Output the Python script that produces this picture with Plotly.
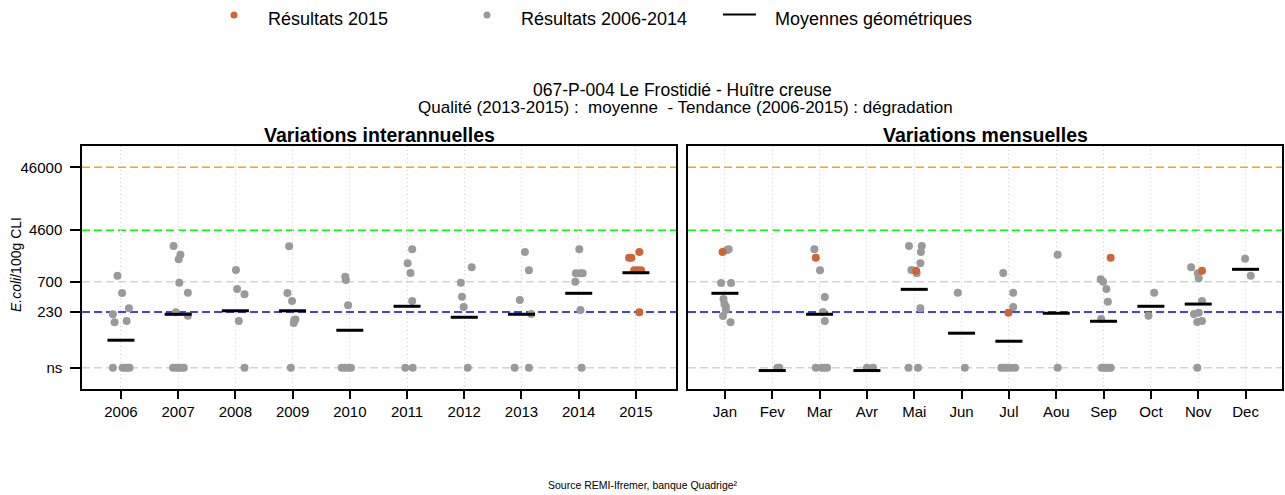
import plotly.graph_objects as go

# ---------------------------------------------------------------- data
YEARS = ["2006", "2007", "2008", "2009", "2010", "2011", "2012", "2013", "2014", "2015"]
MONTHS = ["Jan", "Fev", "Mar", "Avr", "Mai", "Jun", "Jul", "Aou", "Sep", "Oct", "Nov", "Dec"]

NS_LEVEL = 30  # plotting level used for "ns" results
Y_TICK_VALUES = [NS_LEVEL, 230, 700, 4600, 46000]
Y_TICK_LABELS = ["ns", "230", "700", "4600", "46000"]

# Results 2006-2014 by year (value "ns" = non significatif)
hist_year = (["2006"] * 11 + ["2007"] * 12 + ["2008"] * 5 + ["2009"] * 7 + ["2010"] * 7
             + ["2011"] * 6 + ["2012"] * 5 + ["2013"] * 6 + ["2014"] * 7)
hist_value = [870, 462, 264, 212, 158, 166, "ns", "ns", "ns", "ns", "ns",
              2580, 1877, 1585, 673, 467, 228, 201, "ns", "ns", "ns", "ns", "ns",
              1071, 535, 441, 166, "ns",
              2550, 462, 344, 172, 154, 175, "ns",
              838, 743, 294, "ns", "ns", "ns", "ns",
              2285, 1370, 960, 344, "ns", "ns",
              1183, 673, 403, 277, "ns",
              2070, 1059, 357, 214, "ns", "ns",
              2285, 950, 950, 950, 698, 248, "ns"]
hist_jitter = [-0.06, 0.02, 0.14, -0.14, -0.11, 0.10, -0.14, 0.03, 0.07, 0.11, 0.15,
               -0.08, 0.04, 0.01, 0.02, 0.17, -0.04, 0.17, -0.09, -0.03, 0.01, 0.05, 0.10,
               0.01, 0.03, 0.16, 0.06, 0.16,
               -0.06, -0.09, -0.01, 0.03, 0.02, 0.05, -0.03,
               -0.08, -0.07, -0.03, -0.14, -0.08, -0.03, 0.02,
               0.09, 0.01, 0.06, 0.09, -0.03, 0.10,
               0.13, -0.06, -0.04, -0.01, 0.06,
               0.06, 0.13, -0.03, 0.17, -0.12, 0.13,
               0.01, -0.05, 0.02, 0.07, -0.06, 0.03, 0.05]

# Results 2015
cur_year = ["2015"] * 7
cur_value = [2070, 1682, 1682, 1059, 1059, 1059, 228]
cur_jitter = [0.06, -0.12, -0.08, -0.03, 0.03, 0.09, 0.06]

annual_geomean = [82, 212, 241, 241, 118, 284, 190, 212, 457, 970]

# Same results grouped by month
mon_hist_month = (["Jan"] * 10 + ["Fev"] * 2 + ["Mar"] * 9 + ["Avr"] * 2 + ["Mai"] * 9
                  + ["Jun"] * 2 + ["Jul"] * 8 + ["Aou"] * 2 + ["Sep"] * 10 + ["Oct"] * 2
                  + ["Nov"] * 9 + ["Dec"] * 2)
mon_hist_value = [2285, 2200, 664, 664, 371, 308, 280, 248, 199, 158,
                  "ns", "ns",
                  2285, 1059, 399, 230, 166, "ns", "ns", "ns", "ns",
                  "ns", "ns",
                  2580, 2580, 2070, 1370, 1071, 950, 264, "ns", "ns",
                  467, "ns",
                  960, 467, 277, "ns", "ns", "ns", "ns", "ns",
                  1877, "ns",
                  762, 698, 535, 336, 178, "ns", "ns", "ns", "ns", "ns",
                  467, 201,
                  1183, 950, 791, 344, 225, 214, 160, 166, "ns",
                  1621, 870]
mon_hist_jitter = [0.08, 0.04, -0.08, 0.13, -0.03, -0.01, 0.02, 0.02, -0.04, 0.12,
                   0.11, 0.15,
                   -0.11, 0.01, 0.11, 0.07, 0.11, -0.08, 0.04, 0.10, 0.16,
                   0.00, 0.13,
                   -0.11, 0.16, 0.14, 0.13, -0.06, 0.05, 0.13, -0.12, 0.08,
                   -0.08, 0.07,
                   -0.12, 0.09, 0.09, -0.16, -0.09, -0.03, 0.04, 0.13,
                   0.03, 0.03,
                   -0.06, -0.01, 0.06, 0.09, -0.05, -0.04, 0.01, 0.05, 0.10, 0.15,
                   0.07, -0.05,
                   -0.15, -0.01, 0.01, 0.08, 0.01, -0.09, -0.02, 0.08, -0.02,
                   -0.01, 0.11]

mon_cur_month = ["Jan", "Mar", "Mai", "Jul", "Sep", "Nov"]
mon_cur_value = [2070, 1682, 1045, 225, 1682, 1045]
mon_cur_jitter = [-0.05, -0.08, 0.04, -0.01, 0.15, 0.08]

monthly_geomean = [457, 27, 212, 27, 528, 106, 79, 220, 164, 284, 308, 1099]

THRESHOLDS = [46000, 4600, 700, 230, NS_LEVEL]
THRESHOLD_COLORS = ["#FFA500", "#00FF00", "#D3D3D3", "#0000FF", "#D3D3D3"]

# ---------------------------------------------------------------- styling
W, H = 1285, 495
GRAY = "#9A9A9A"
ORANGE = "#CD6535"
FONT = "Liberation Sans, Arial, sans-serif"

LEFT_DOM = [82 / W, 676 / W]
RIGHT_DOM = [688 / W, 1282 / W]
Y_DOM = [1 - 389 / H, 1 - 146 / H]
X1_RANGE = [0.32, 10.7]
X2_RANGE = [0.22, 12.77]
Y_RANGE = [1.138, 5.002]
MEAN_PX = 27  # on-screen length of geometric-mean bars


def px_x(px):
    return px / W


def px_y(px):
    return 1 - px / H


def to_y(v):
    return NS_LEVEL if v == "ns" else v


def positions(groups, jitter, cats):
    return [cats.index(g) + 1 + j for g, j in zip(groups, jitter)]


def mean_segments(means, half):
    xs, ys = [], []
    for i, m in enumerate(means):
        xs += [i + 1 - half, i + 1 + half, None]
        ys += [m, m, None]
    return xs, ys


fig = go.Figure()

marker_gray = dict(color=GRAY, size=8)
marker_orange = dict(color=ORANGE, size=8)

# interannual panel
fig.add_trace(go.Scatter(x=positions(hist_year, hist_jitter, YEARS),
                         y=[to_y(v) for v in hist_value], mode="markers",
                         marker=marker_gray, xaxis="x", yaxis="y"))
fig.add_trace(go.Scatter(x=positions(cur_year, cur_jitter, YEARS),
                         y=[to_y(v) for v in cur_value], mode="markers",
                         marker=marker_orange, xaxis="x", yaxis="y"))
half1 = MEAN_PX / 2 * (X1_RANGE[1] - X1_RANGE[0]) / (LEFT_DOM[1] - LEFT_DOM[0]) / W
mx, my = mean_segments(annual_geomean, half1)
fig.add_trace(go.Scatter(x=mx, y=my, mode="lines", line=dict(color="black", width=3),
                         xaxis="x", yaxis="y"))

# monthly panel
fig.add_trace(go.Scatter(x=positions(mon_hist_month, mon_hist_jitter, MONTHS),
                         y=[to_y(v) for v in mon_hist_value], mode="markers",
                         marker=marker_gray, xaxis="x2", yaxis="y2"))
fig.add_trace(go.Scatter(x=positions(mon_cur_month, mon_cur_jitter, MONTHS),
                         y=[to_y(v) for v in mon_cur_value], mode="markers",
                         marker=marker_orange, xaxis="x2", yaxis="y2"))
half2 = MEAN_PX / 2 * (X2_RANGE[1] - X2_RANGE[0]) / (RIGHT_DOM[1] - RIGHT_DOM[0]) / W
mx2, my2 = mean_segments(monthly_geomean, half2)
fig.add_trace(go.Scatter(x=mx2, y=my2, mode="lines", line=dict(color="black", width=3),
                         xaxis="x2", yaxis="y2"))

# threshold lines in both panels
shapes = []
for xref, yref in (("x domain", "y"), ("x2 domain", "y2")):
    for val, col in zip(THRESHOLDS, THRESHOLD_COLORS):
        shapes.append(dict(type="line", xref=xref, yref=yref, x0=0, x1=1, y0=val, y1=val,
                           line=dict(color=col, width=1.5, dash="8px,4px"), layer="below"))

# legend symbols
shapes.append(dict(type="circle", xref="paper", yref="paper",
                   x0=px_x(230.5), x1=px_x(237.5), y0=px_y(18.5), y1=px_y(11.5),
                   fillcolor=ORANGE, line=dict(width=0)))
shapes.append(dict(type="circle", xref="paper", yref="paper",
                   x0=px_x(483.5), x1=px_x(490.5), y0=px_y(18.5), y1=px_y(11.5),
                   fillcolor=GRAY, line=dict(width=0)))
shapes.append(dict(type="line", xref="paper", yref="paper",
                   x0=px_x(723), x1=px_x(756), y0=px_y(14.5), y1=px_y(14.5),
                   line=dict(color="black", width=2)))

axis_common = dict(showline=True, linecolor="black", linewidth=1.5, mirror=True,
                   zeroline=False, tickfont=dict(size=15, color="black", family=FONT))

x_common = dict(axis_common, ticks="outside", ticklen=8, tickwidth=1.5, tickcolor="black",
                showgrid=True, gridcolor="#D3D3D3", griddash="1px,3px", gridwidth=1,
                ticklabelstandoff=0)

annotations = [
    dict(text="Résultats 2015", x=px_x(266), y=px_y(19), xanchor="left", yanchor="middle",
         font=dict(size=18)),
    dict(text="Résultats 2006-2014", x=px_x(519), y=px_y(19), xanchor="left", yanchor="middle",
         font=dict(size=18)),
    dict(text="Moyennes géométriques", x=px_x(773), y=px_y(19), xanchor="left",
         yanchor="middle", font=dict(size=18)),
    dict(text="067-P-004 Le Frostidié - Huître creuse", x=px_x(682), y=px_y(90),
         xanchor="center", yanchor="middle", font=dict(size=17.5)),
    dict(text="Qualité (2013-2015) :  moyenne  - Tendance (2006-2015) : dégradation",
         x=px_x(685), y=px_y(107), xanchor="center", yanchor="middle", font=dict(size=17)),
    dict(text="<b>Variations interannuelles</b>", x=px_x(379), y=px_y(135),
         xanchor="center", yanchor="middle", font=dict(size=19.5)),
    dict(text="<b>Variations mensuelles</b>", x=px_x(985), y=px_y(135),
         xanchor="center", yanchor="middle", font=dict(size=19.5)),
    dict(text="<i>E.coli</i>/100g CLI", x=px_x(16), y=px_y(265), textangle=-90,
         xanchor="center", yanchor="middle", font=dict(size=14)),
    dict(text="Source REMI-Ifremer, banque Quadrige²", x=px_x(643), y=px_y(485),
         xanchor="center", yanchor="middle", font=dict(size=10.5)),
]
for a in annotations:
    a.update(xref="paper", yref="paper", showarrow=False)
    a["font"].update(family=FONT, color="black")

fig.update_layout(
    width=W, height=H, margin=dict(l=0, r=0, t=0, b=0),
    paper_bgcolor="white", plot_bgcolor="white", showlegend=False,
    font=dict(family=FONT, color="black"),
    xaxis=dict(x_common, domain=LEFT_DOM, range=X1_RANGE, tickmode="array",
               tickvals=list(range(1, len(YEARS) + 1)), ticktext=YEARS, anchor="y"),
    yaxis=dict(axis_common, domain=Y_DOM, type="log", range=Y_RANGE, tickmode="array",
               tickvals=Y_TICK_VALUES, ticktext=Y_TICK_LABELS, ticks="outside", ticklen=10,
               tickwidth=1.5, tickcolor="black", showgrid=False, anchor="x",
               ticklabelstandoff=5),
    xaxis2=dict(x_common, domain=RIGHT_DOM, range=X2_RANGE, tickmode="array",
                tickvals=list(range(1, len(MONTHS) + 1)), ticktext=MONTHS, anchor="y2"),
    yaxis2=dict(axis_common, domain=Y_DOM, type="log", range=Y_RANGE, matches="y",
                showticklabels=False, ticks="", showgrid=False, anchor="x2"),
    shapes=shapes,
    annotations=annotations,
)

fig.write_html("out.html")
